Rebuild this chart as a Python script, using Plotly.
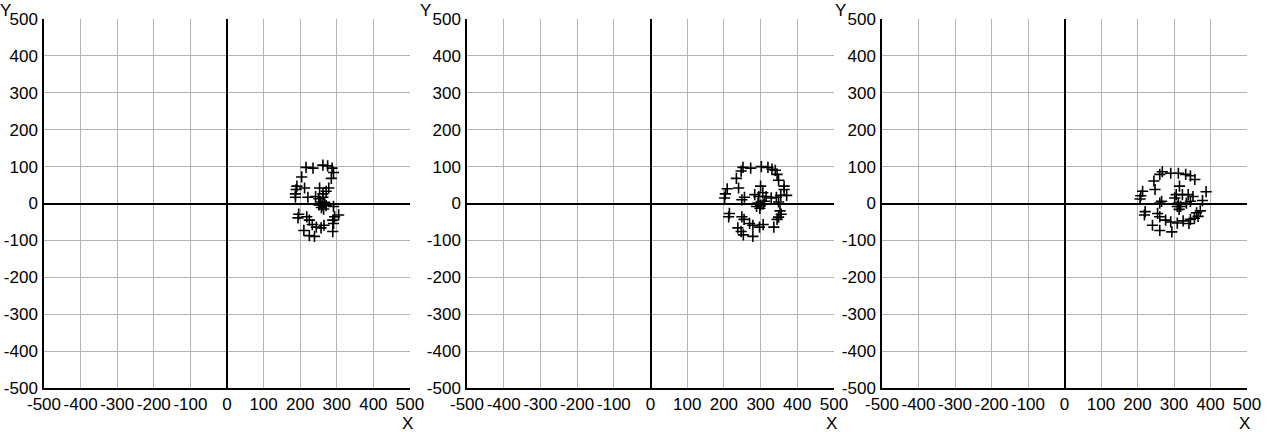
import plotly.graph_objects as go

# Panel 1 points
x1 = [216, 235, 262, 275, 287, 291, 204, 285, 191, 189, 187, 187, 212, 253, 278, 271, 262, 221, 242, 251,
      262, 255, 267, 260, 251, 271, 258, 264, 291, 305, 294, 289, 291, 289, 196, 194, 218, 225, 233, 244,
      257, 265, 210, 225, 239]
y1 = [98, 96, 104, 102, 96, 84, 72, 68, 47, 38, 26, 17, 42, 42, 42, 33, 26, 17, 19, 13,
      17, 4, 3, -4, -4, -6, -11, -15, -8, -31, -36, -45, -54, -76, -29, -39, -36, -45, -57, -64,
      -66, -59, -73, -87, -89]

# Panel 2 points
x2 = [252, 247, 273, 302, 320, 331, 340, 345, 349, 234, 240, 209, 204, 202, 364, 364, 371, 355, 300, 284,
      295, 306, 315, 256, 249, 329, 343, 293, 300, 307, 298, 289, 311, 349, 353, 356, 349, 345, 336, 215,
      213, 249, 255, 270, 279, 297, 307, 238, 247, 253, 279]
y2 = [98, 88, 96, 100, 98, 93, 90, 79, 63, 68, 42, 40, 26, 15, 47, 38, 22, 22, 47, 24,
      19, 29, 19, 17, 10, 15, 17, 1, -4, -2, -13, -8, 6, 4, -20, -29, -37, -43, -64, -27,
      -36, -36, -43, -54, -59, -64, -57, -66, -76, -85, -89]

# Panel 3 points
x3 = [268, 261, 291, 312, 332, 345, 245, 357, 248, 214, 209, 207, 315, 306, 323, 339, 352, 302, 266, 261,
      312, 318, 309, 314, 334, 345, 221, 219, 255, 261, 277, 291, 309, 325, 341, 345, 241, 261, 294, 388,
      362, 366, 356, 372, 378]
y3 = [86, 79, 82, 82, 79, 75, 61, 65, 38, 33, 21, 12, 47, 24, 24, 24, 19, 15, 6, 1,
      1, -8, -8, -16, 1, 6, -22, -31, -27, -36, -45, -50, -53, -47, -54, -43, -59, -73, -77, 32,
      -25, -35, -40, -20, 8]

ticks = [-500, -400, -300, -200, -100, 0, 100, 200, 300, 400, 500]
tick_text = ["-500", "-400", "-300", "-200", "-100", "0", "100", "200", "300", "400", "500"]

W, H = 1273, 432
domains = [(44 / W, 410 / W), (467 / W, 834 / W), (882 / W, 1247 / W)]
ydom = ((432 - 388) / H, (432 - 19) / H)

fig = go.Figure()
font = dict(family="Liberation Sans, Arial, sans-serif", size=17, color="#000")

for i, (xs, ys) in enumerate([(x1, y1), (x2, y2), (x3, y3)]):
    n = "" if i == 0 else str(i + 1)
    fig.add_trace(go.Scatter(
        x=xs, y=ys, mode="markers", xaxis="x" + n, yaxis="y" + n,
        marker=dict(symbol="cross-thin-open", size=8, color="black",
                    line=dict(color="black", width=1.6)),
        showlegend=False, hoverinfo="x+y"))
    axcommon = dict(range=[-500, 500], tickmode="array", tickvals=ticks, ticktext=tick_text,
                    showgrid=True, gridcolor="#b4b4b4", gridwidth=1,
                    zeroline=True, zerolinecolor="black", zerolinewidth=2,
                    showline=True, linecolor="black", linewidth=1.5,
                    ticks="", tickfont=font, fixedrange=True, automargin=False)
    fig.update_layout(**{
        "xaxis" + n: dict(domain=list(domains[i]), anchor="y" + n, ticklabelstandoff=0, **axcommon),
        "yaxis" + n: dict(domain=list(ydom), anchor="x" + n, ticklabelstandoff=1, **axcommon),
    })
    ypos_x = max(5, domains[i][0] * W - 42)
    fig.add_annotation(text="Y", xref="paper", yref="paper",
                       x=ypos_x / W, y=(432 - 11) / H,
                       showarrow=False, font=font, xanchor="center", yanchor="middle")
    fig.add_annotation(text="X", xref="paper", yref="paper",
                       x=(domains[i][1] * W - 3) / W, y=(432 - 423) / H,
                       showarrow=False, font=font, xanchor="center", yanchor="middle")

fig.update_layout(width=W, height=H, margin=dict(l=0, r=0, t=0, b=0, autoexpand=False),
                  paper_bgcolor="white", plot_bgcolor="white")
fig.write_html("out.html")
